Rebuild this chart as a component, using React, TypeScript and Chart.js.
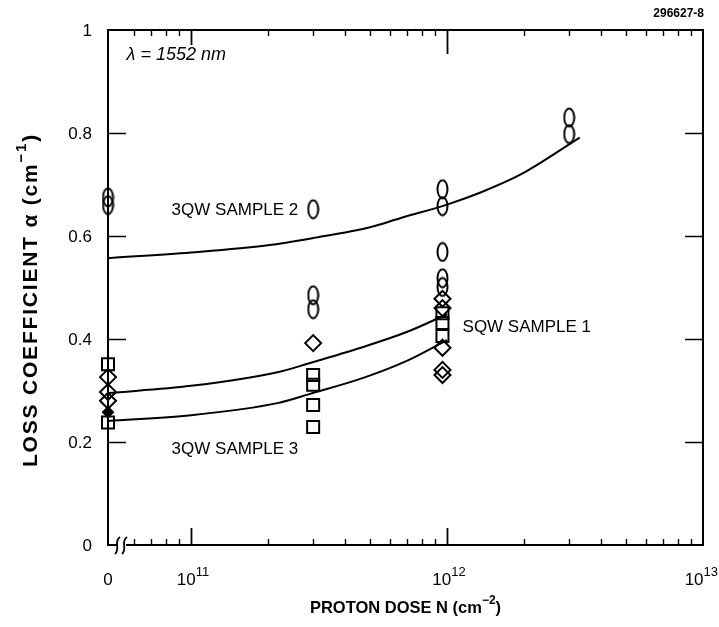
import React, { useEffect, useRef } from "react";
import { Chart, registerables } from "chart.js";

Chart.register(...registerables);

// ---------- axes ----------
const X_AXIS_MIN = 4.74e10; // left edge (axis break), where dose "0" is plotted
const X_AXIS_MAX = 1e13;
const Y_AXIS_MIN = 0;
const Y_AXIS_MAX = 1;

const xMajorTicks = [1e11, 1e12, 1e13];
const xMinorMultipliers = [2, 3, 4, 5, 6, 7, 8, 9];
const xDecades = [1e10, 1e11, 1e12];
const xTickLabelValues = [0, 1e11, 1e12, 1e13];
const xTickLabelBases = ["0", "10", "10", "10"];
const xTickLabelExps = ["", "11", "12", "13"];
const yTickValues = [0, 0.2, 0.4, 0.6, 0.8, 1];
const yTickLabels = ["0", "0.2", "0.4", "0.6", "0.8", "1"];

// ---------- measured points ----------
// 3QW sample 2 (ellipses)
const sample2Dose = [0, 0, 3e11, 3e11, 3e11, 9.6e11, 9.6e11, 9.6e11, 9.6e11, 9.6e11, 3e12, 3e12];
const sample2Alpha = [0.675, 0.66, 0.652, 0.485, 0.458, 0.691, 0.658, 0.569, 0.518, 0.501, 0.83, 0.798];

// SQW sample 1 (diamonds)
const sample1Dose = [0, 0, 0, 3e11, 9.6e11, 9.6e11, 9.6e11, 9.6e11, 9.6e11];
const sample1Alpha = [0.326, 0.297, 0.28, 0.392, 0.478, 0.46, 0.383, 0.34, 0.33];
const sample1FilledDose = [0];
const sample1FilledAlpha = [0.258];

// 3QW sample 3 (squares)
const sample3Dose = [0, 0, 3e11, 3e11, 3e11, 3e11, 9.6e11, 9.6e11, 9.6e11];
const sample3Alpha = [0.351, 0.238, 0.33, 0.311, 0.272, 0.229, 0.45, 0.431, 0.406];

// ---------- fitted curves ----------
const fit2Dose = [0, 1e11, 2e11, 3e11, 5e11, 6.6e11, 1e12, 1.36e12, 1.95e12, 3.3e12];
const fit2Alpha = [0.557, 0.568, 0.582, 0.596, 0.617, 0.635, 0.661, 0.685, 0.72, 0.791];

const fit1Dose = [0, 1e11, 2.2e11, 2.9e11, 4.6e11, 7e11, 1e12];
const fit1Alpha = [0.295, 0.309, 0.336, 0.353, 0.383, 0.414, 0.448];

const fit3Dose = [0, 1e11, 2.2e11, 2.9e11, 4.8e11, 7e11, 1e12];
const fit3Alpha = [0.241, 0.252, 0.276, 0.293, 0.326, 0.358, 0.398];

// ---------- annotations ----------
const annotationTexts = ["3QW SAMPLE 2", "SQW SAMPLE 1", "3QW SAMPLE 3"];
const annotationDose = [8.4e10, 1.15e12, 8.4e10];
const annotationAlpha = [0.649, 0.422, 0.185];

const FONT = '"Liberation Sans", Arial, Helvetica, sans-serif';

const toX = (d: number) => (d === 0 ? X_AXIS_MIN : d);
const pts = (ds: number[], as: number[]) => ds.map((d, i) => ({ x: toX(d), y: as[i] }));

type Part = { t: string; sup?: boolean };

function drawParts(
  ctx: CanvasRenderingContext2D,
  parts: Part[],
  cx: number,
  cy: number,
  size: number,
  weight: string,
  align: "center" | "left" | "right",
  supScale = 0.72,
  spacing = 0
) {
  const base = `${weight} ${size}px ${FONT}`;
  const supSize = Math.round(size * supScale);
  const sup = `${weight} ${supSize}px ${FONT}`;
  (ctx as any).letterSpacing = `${spacing}px`;
  let total = 0;
  const widths = parts.map((p) => {
    ctx.font = p.sup ? sup : base;
    const w = ctx.measureText(p.t).width;
    total += w;
    return w;
  });
  let x = align === "center" ? cx - total / 2 : align === "right" ? cx - total : cx;
  ctx.textAlign = "left";
  ctx.textBaseline = "middle";
  parts.forEach((p, i) => {
    ctx.font = p.sup ? sup : base;
    ctx.fillText(p.t, x, p.sup ? cy - size * 0.45 : cy);
    x += widths[i];
  });
  (ctx as any).letterSpacing = "0px";
}

const decorPlugin = {
  id: "decor",
  afterDraw(chart: any) {
    const { ctx, chartArea: a } = chart;
    const xs = chart.scales.x;
    const ys = chart.scales.y;
    ctx.save();
    ctx.strokeStyle = "#000";
    ctx.fillStyle = "#000";

    // frame
    ctx.lineWidth = 2;
    ctx.strokeRect(a.left, a.top, a.right - a.left, a.bottom - a.top);

    // y ticks (left & right, inward)
    ctx.lineWidth = 1.6;
    yTickValues.forEach((v) => {
      if (v <= Y_AXIS_MIN || v >= Y_AXIS_MAX) return;
      const py = Math.round(ys.getPixelForValue(v)) + 0.5;
      ctx.beginPath();
      ctx.moveTo(a.left, py);
      ctx.lineTo(a.left + 18, py);
      ctx.moveTo(a.right, py);
      ctx.lineTo(a.right - 18, py);
      ctx.stroke();
    });

    // x ticks (bottom & top, inward)
    const minorTicks: number[] = [];
    xDecades.forEach((d) =>
      xMinorMultipliers.forEach((m) => {
        const v = d * m;
        if (v > X_AXIS_MIN * 1.2 && v < X_AXIS_MAX) minorTicks.push(v);
      })
    );
    ctx.lineWidth = 1.4;
    minorTicks.forEach((v) => {
      const px = Math.round(xs.getPixelForValue(v)) + 0.5;
      ctx.beginPath();
      ctx.moveTo(px, a.bottom);
      ctx.lineTo(px, a.bottom - 6);
      ctx.moveTo(px, a.top);
      ctx.lineTo(px, a.top + 6);
      ctx.stroke();
    });
    ctx.lineWidth = 1.8;
    xMajorTicks.forEach((v, i) => {
      if (v >= X_AXIS_MAX) return;
      const px = Math.round(xs.getPixelForValue(v)) + 0.5;
      ctx.beginPath();
      ctx.moveTo(px, a.bottom);
      ctx.lineTo(px, a.bottom - 17);
      ctx.moveTo(px, a.top);
      ctx.lineTo(px, a.top + (i === 1 ? 24 : 15));
      ctx.stroke();
    });

    // axis break symbol on the bottom axis
    const bx = a.left + 10;
    const by = a.bottom;
    ctx.fillStyle = "#fff";
    ctx.fillRect(bx - 1, by - 2, 9, 4);
    ctx.fillStyle = "#000";
    ctx.lineWidth = 1.8;
    [bx - 1, bx + 6].forEach((sx) => {
      ctx.beginPath();
      ctx.moveTo(sx + 3, by - 8);
      ctx.bezierCurveTo(sx - 4, by - 3, sx + 4, by + 3, sx - 2, by + 9);
      ctx.stroke();
    });

    // y tick labels
    ctx.fillStyle = "#000";
    ctx.font = `17px ${FONT}`;
    ctx.textAlign = "right";
    ctx.textBaseline = "middle";
    yTickValues.forEach((v, i) => {
      ctx.fillText(yTickLabels[i], a.left - 16, ys.getPixelForValue(v) + 1);
    });

    // x tick labels
    xTickLabelValues.forEach((v, i) => {
      const px = xs.getPixelForValue(toX(v));
      const parts: Part[] = [{ t: xTickLabelBases[i] }];
      if (xTickLabelExps[i]) parts.push({ t: xTickLabelExps[i], sup: true });
      const last = i === xTickLabelValues.length - 1;
      drawParts(ctx, parts, last ? 718 : px + (i === 0 ? 0 : 2), a.bottom + 35, 17, "normal", last ? "right" : "center", 0.78);
    });

    // axis titles
    drawParts(ctx, [{ t: "PROTON DOSE N (cm" }, { t: "\u22122", sup: true }, { t: ")" }], (a.left + a.right) / 2, 608, 16.5, "bold", "center", 0.75);
    ctx.save();
    ctx.translate(31, 300);
    ctx.rotate(-Math.PI / 2);
    drawParts(ctx, [{ t: "LOSS COEFFICIENT \u03b1 (cm" }, { t: "\u22121", sup: true }, { t: ")" }], 0, 0, 21, "bold", "center", 0.72, 1.8);
    ctx.restore();

    // annotations
    annotationTexts.forEach((t, i) => {
      drawParts(ctx, [{ t }], xs.getPixelForValue(annotationDose[i]), ys.getPixelForValue(annotationAlpha[i]), 17, "normal", "left");
    });
    drawParts(ctx, [{ t: "\u03bb = 1552 nm" }], xs.getPixelForValue(5.6e10), ys.getPixelForValue(0.952), 18, "italic", "left");

    // figure number
    ctx.font = `bold 12px ${FONT}`;
    ctx.textAlign = "right";
    ctx.textBaseline = "middle";
    ctx.fillText("296627-8", a.right + 1, 14);

    ctx.restore();
  },
};

export default function App() {
  const ref = useRef<HTMLCanvasElement>(null);

  useEffect(() => {
    const canvas = ref.current;
    if (!canvas) return;

    const ellipse = document.createElement("canvas");
    ellipse.width = 13;
    ellipse.height = 21;
    const ec = ellipse.getContext("2d")!;
    ec.strokeStyle = "#000";
    ec.lineWidth = 2;
    ec.beginPath();
    ec.ellipse(6.5, 10.5, 5, 9, 0, 0, Math.PI * 2);
    ec.stroke();

    const curve = (d: number[], a: number[]) => ({
      data: pts(d, a),
      showLine: true,
      borderColor: "#000",
      borderWidth: 2,
      pointRadius: 0,
      cubicInterpolationMode: "monotone" as const,
      fill: false,
      clip: false as any,
    });

    const chart = new Chart(canvas, {
      type: "scatter",
      data: {
        datasets: [
          { label: "fit 2", ...curve(fit2Dose, fit2Alpha) },
          { label: "fit 1", ...curve(fit1Dose, fit1Alpha) },
          { label: "fit 3", ...curve(fit3Dose, fit3Alpha) },
          {
            label: "3QW sample 2",
            data: pts(sample2Dose, sample2Alpha),
            pointStyle: ellipse as any,
            pointRadius: 10,
            borderColor: "#000",
            backgroundColor: "transparent",
            clip: false as any,
          },
          {
            label: "SQW sample 1",
            data: pts(sample1Dose, sample1Alpha),
            pointStyle: "rectRot",
            pointRadius: 8,
            pointBorderWidth: 2,
            borderColor: "#000",
            backgroundColor: "transparent",
            clip: false as any,
          },
          {
            label: "SQW sample 1 (filled)",
            data: pts(sample1FilledDose, sample1FilledAlpha),
            pointStyle: "rectRot",
            pointRadius: 5,
            pointBorderWidth: 2,
            borderColor: "#000",
            backgroundColor: "#000",
            clip: false as any,
          },
          {
            label: "3QW sample 3",
            data: pts(sample3Dose, sample3Alpha),
            pointStyle: "rect",
            pointRadius: 8.5,
            pointBorderWidth: 2,
            borderColor: "#000",
            backgroundColor: "transparent",
            clip: false as any,
          },
        ],
      },
      options: {
        animation: false,
        responsive: false,
        devicePixelRatio: 1,
        events: [],
        layout: { padding: { left: 108, right: 16, top: 30, bottom: 82 } },
        plugins: {
          legend: { display: false },
          tooltip: { enabled: false },
          title: { display: false },
        },
        scales: {
          x: { type: "logarithmic", min: X_AXIS_MIN, max: X_AXIS_MAX, display: false },
          y: { type: "linear", min: Y_AXIS_MIN, max: Y_AXIS_MAX, display: false },
        },
      },
      plugins: [decorPlugin],
    });

    return () => chart.destroy();
  }, []);

  return (
    <div style={{ position: "absolute", left: 0, top: 0, width: 719, height: 627, background: "#fff" }}>
      <canvas ref={ref} width={719} height={627} style={{ display: "block", width: 719, height: 627 }} />
    </div>
  );
}
